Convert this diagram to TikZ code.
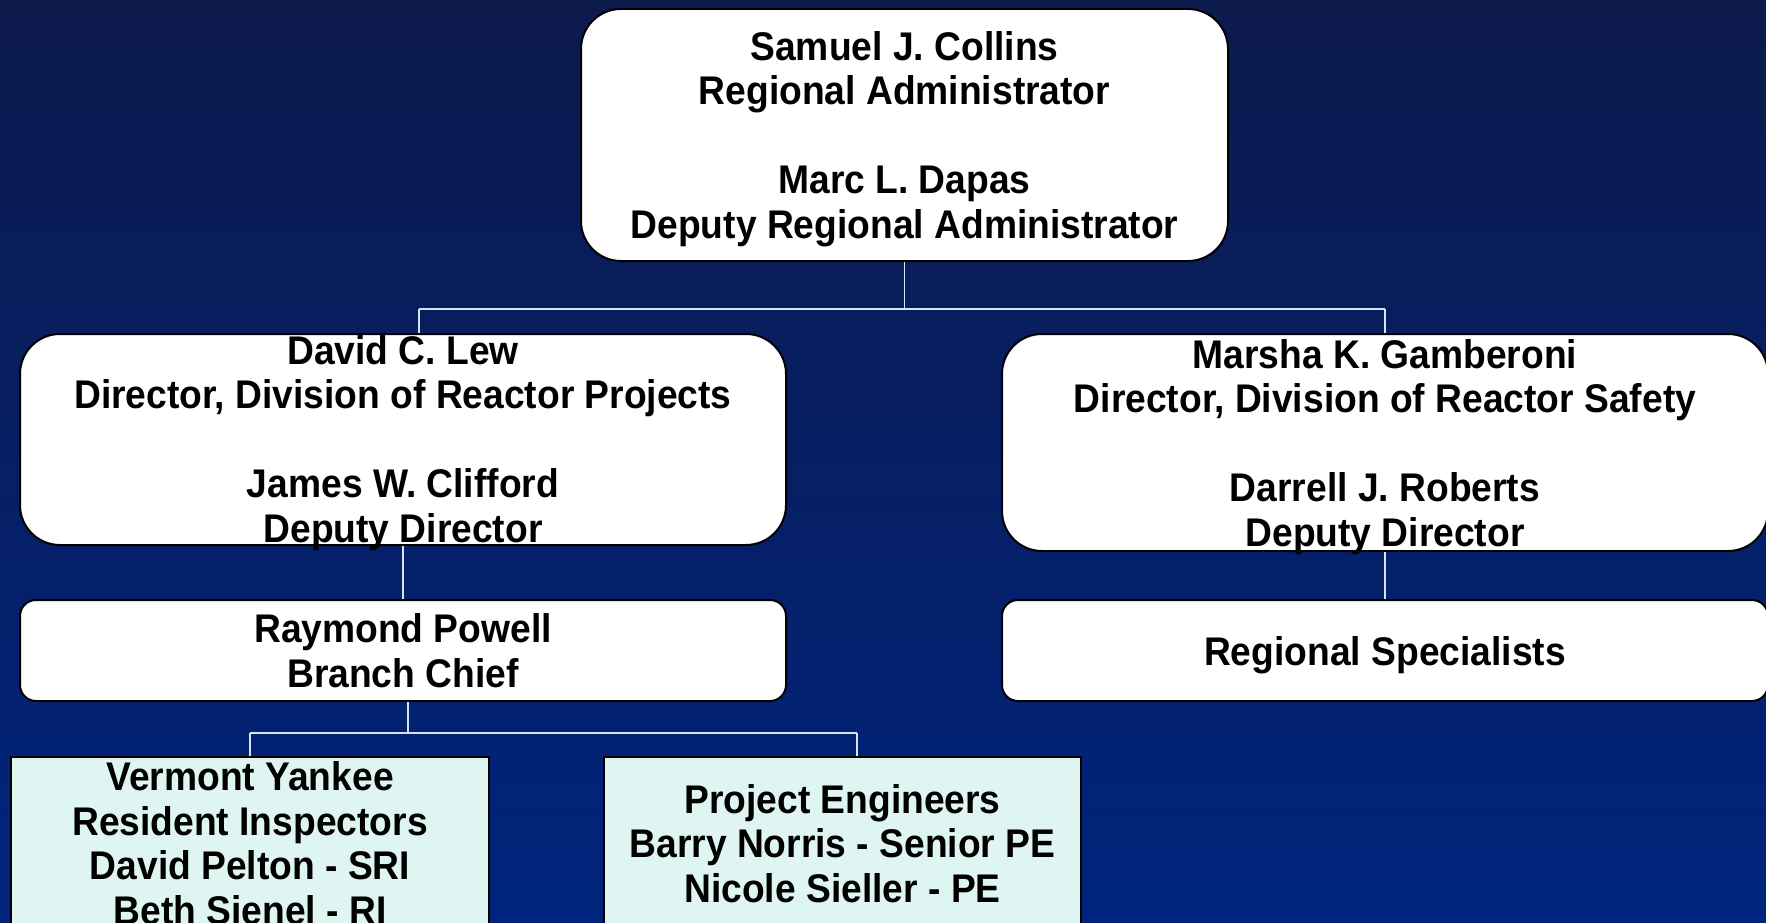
\documentclass[tikz,border=0pt]{standalone}
\usepackage{fontspec}
\setmainfont{Liberation Sans}[FakeStretch=0.93]
\definecolor{navytop}{RGB}{12,26,76}
\definecolor{navybottom}{RGB}{0,36,125}
\definecolor{paleteal}{RGB}{222,245,241}
\definecolor{linkgrey}{RGB}{215,228,240}
\begin{document}
\begin{tikzpicture}[x=1pt, y=-1pt,
  orgbox/.style={draw=black, line width=2pt, fill=white, rounded corners=40pt, inner sep=0pt, align=center, font=\fontsize{40}{44.5}\selectfont\bfseries},
  subbox/.style={orgbox, rounded corners=16pt},
  teambox/.style={orgbox, rounded corners=0pt, fill=paleteal},
  lastline/.style={text height=#1, text depth=0pt},
  link/.style={draw=linkgrey, line width=1.6pt}]
  \clip (0,0) rectangle (1766,923);
  \shade[top color=navytop, bottom color=navybottom] (0,0) rectangle (1766,923);

  \node[orgbox, lastline=206pt, minimum width=647pt, minimum height=252pt] (admin) at (904.5,135) {Samuel J. Collins\\Regional Administrator\\[44.5pt]Marc L. Dapas\\Deputy Regional Administrator};
  \node[orgbox, lastline=205pt, minimum width=766pt, minimum height=211pt] (drp) at (403,439.5) {David C. Lew\\Director, Division of Reactor Projects\\[44.5pt]James W. Clifford\\Deputy Director};
  \node[orgbox, lastline=207pt, minimum width=766pt, minimum height=217pt] (drs) at (1385,442.5) {Marsha K. Gamberoni\\Director, Division of Reactor Safety\\[44.5pt]Darrell J. Roberts\\Deputy Director};
  \node[subbox, lastline=73pt, minimum width=766pt, minimum height=101pt] (branch) at (403,650.5) {Raymond Powell\\Branch Chief};
  \node[subbox, lastline=29pt, minimum width=766pt, minimum height=101pt] (specialists) at (1385,650.5) {Regional Specialists};
  \node[teambox, lastline=158pt, minimum width=478pt, minimum height=176pt] (resident) at (250,845) {Vermont Yankee\\Resident Inspectors\\David Pelton - SRI\\Beth Sienel - RI};
  \node[teambox, lastline=114pt, minimum width=477pt, minimum height=176pt] (engineers) at (842.5,845) {Project Engineers\\Barry Norris - Senior PE\\Nicole Sieller - PE};

  \coordinate (topjoin) at (419,309);
  \coordinate (topjoinr) at (1385,309);
  \coordinate (lowjoin) at (408,733);
  \coordinate (lowjoinr) at (857,733);

  \draw[link] (admin.south) -- (admin.south |- topjoin);
  \draw[link] (topjoin) -- (topjoinr);
  \draw[link] (topjoin) -- (topjoin |- drp.north);
  \draw[link] (topjoinr) -- (drs.north);
  \draw[link] (drp.south) -- (branch.north);
  \draw[link] (drs.south) -- (specialists.north);
  \draw[link] (branch.south -| lowjoin) -- (lowjoin);
  \draw[link] (lowjoin -| resident.north) -- (lowjoinr);
  \draw[link] (lowjoin -| resident.north) -- (resident.north);
  \draw[link] (lowjoinr) -- (lowjoinr |- engineers.north);
\end{tikzpicture}
\end{document}
